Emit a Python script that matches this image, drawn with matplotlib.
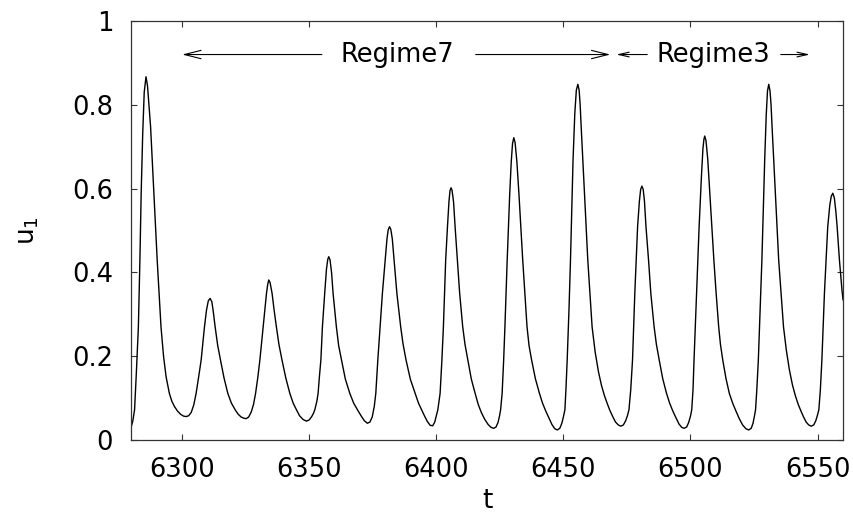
import matplotlib
matplotlib.use("Agg")
import matplotlib.pyplot as plt

# ---- data (one row group per oscillation) ----
t_vals = [
    6280.0, 6280.6, 6281.3, 6282.0, 6282.8, 6283.4, 6283.9, 6284.5, 6285.1, 6285.8, 6286.4, 6287.0,
    6287.6, 6288.9, 6290.2, 6291.7, 6292.7, 6293.7, 6295.0, 6296.0, 6297.0, 6298.2, 6299.5, 6300.6,
    6301.6, 6302.6, 6303.6, 6304.6, 6305.5, 6306.5, 6307.5, 6308.8, 6309.6, 6310.3, 6311.0, 6311.7,
    6312.3, 6313.0, 6314.0, 6315.1, 6316.5, 6318.0, 6319.4, 6320.9, 6322.0, 6323.2, 6324.3,
    6325.2, 6326.2, 6327.2, 6328.1, 6328.9, 6329.8, 6330.6, 6331.9, 6333.2, 6333.7, 6334.1, 6334.6,
    6335.4, 6336.2, 6337.1, 6338.1, 6339.3, 6340.8, 6342.4, 6343.7, 6345.0, 6346.2, 6347.6,
    6348.9, 6350.0, 6351.0, 6351.7, 6352.2, 6353.0, 6353.5, 6354.0, 6354.6, 6355.2, 6356.1, 6356.8,
    6357.3, 6357.7, 6358.2, 6358.8, 6359.4, 6360.7, 6361.6, 6362.7, 6364.2, 6366.0, 6367.5, 6369.2,
    6370.5, 6371.7,
    6372.9, 6373.9, 6374.8, 6375.6, 6376.2, 6377.0, 6377.9, 6378.8, 6379.9, 6380.6, 6381.1, 6381.6,
    6382.1, 6382.7, 6383.4, 6384.5, 6386.0, 6386.9, 6388.1, 6389.8, 6391.7, 6393.0, 6394.3, 6395.4,
    6396.5,
    6397.6, 6398.6, 6399.4, 6400.1, 6400.6, 6401.5, 6402.2, 6402.8, 6403.7, 6404.4, 6405.0, 6405.4,
    6405.8, 6406.2, 6406.8, 6407.4, 6408.3, 6409.2, 6410.4, 6411.3, 6412.4, 6413.8, 6415.3, 6416.5,
    6417.7, 6419.0, 6420.4, 6421.6,
    6422.6, 6423.5, 6424.3, 6424.9, 6425.3, 6425.9, 6426.5, 6427.0, 6427.9, 6428.9, 6429.5, 6430.0,
    6430.5, 6431.0, 6431.7, 6432.5, 6434.0, 6435.7, 6436.5, 6437.5, 6439.0, 6440.6, 6441.8, 6443.0,
    6444.3, 6445.5, 6446.6,
    6447.6, 6448.6, 6449.4, 6450.0, 6450.6, 6451.0, 6451.5, 6452.2, 6452.8, 6453.8, 6454.5, 6455.1,
    6455.7, 6456.2, 6456.6, 6457.0, 6458.3, 6459.6, 6461.3, 6462.5, 6463.8, 6465.0, 6466.2, 6467.2,
    6468.2, 6469.4, 6470.5, 6471.6,
    6472.6, 6473.6, 6474.5, 6475.2, 6475.8, 6476.5, 6477.2, 6478.1, 6479.2, 6479.9, 6480.4, 6480.9,
    6481.4, 6481.9, 6482.5, 6483.5, 6484.4, 6485.7, 6486.6, 6487.7, 6489.1, 6490.6, 6491.8, 6493.0,
    6494.3, 6495.5, 6496.6,
    6497.5, 6498.5, 6499.3, 6500.0, 6500.5, 6501.0, 6501.4, 6502.4, 6503.4, 6504.3, 6504.9, 6505.3,
    6505.6, 6506.1, 6506.8, 6507.6, 6508.4, 6509.2, 6510.1, 6511.1, 6511.8, 6512.7, 6514.0, 6515.3,
    6516.6, 6517.9, 6519.2, 6520.5, 6521.8,
    6522.9, 6523.9, 6524.6, 6525.1, 6525.6, 6526.1, 6526.7, 6527.4, 6528.1, 6529.2, 6529.8, 6530.3,
    6530.8, 6531.3, 6531.7, 6532.1, 6533.4, 6534.7, 6536.6, 6537.7, 6538.9, 6540.1, 6541.3, 6542.4,
    6543.4, 6544.5, 6545.5, 6546.5,
    6547.5, 6548.5, 6549.3, 6549.9, 6550.5, 6551.1, 6551.7, 6552.7, 6554.0, 6554.8, 6555.4, 6556.0,
    6556.6, 6557.2, 6557.7, 6558.6, 6559.6, 6560.0,
]
u_vals = [
    0.032, 0.045, 0.072, 0.160, 0.270, 0.430, 0.589, 0.730, 0.830, 0.867, 0.845, 0.795,
    0.748, 0.589, 0.430, 0.270, 0.200, 0.151, 0.111, 0.092, 0.080, 0.069, 0.061, 0.057,
    0.056, 0.058, 0.066, 0.084, 0.111, 0.150, 0.191, 0.270, 0.310, 0.332, 0.338, 0.330,
    0.305, 0.270, 0.226, 0.191, 0.148, 0.111, 0.088, 0.072, 0.062, 0.055, 0.052,
    0.051, 0.055, 0.067, 0.085, 0.111, 0.150, 0.191, 0.270, 0.350, 0.372, 0.382, 0.376,
    0.350, 0.310, 0.270, 0.228, 0.191, 0.148, 0.111, 0.088, 0.072, 0.058, 0.049,
    0.045, 0.048, 0.056, 0.064, 0.072, 0.092, 0.111, 0.150, 0.191, 0.270, 0.350, 0.408,
    0.431, 0.4375, 0.430, 0.400, 0.350, 0.270, 0.225, 0.191, 0.146, 0.111, 0.088, 0.070,
    0.057, 0.046,
    0.040, 0.043, 0.055, 0.080, 0.111, 0.191, 0.270, 0.350, 0.430, 0.480, 0.502, 0.509,
    0.503, 0.480, 0.430, 0.350, 0.270, 0.230, 0.191, 0.145, 0.111, 0.088, 0.071, 0.057,
    0.044,
    0.035, 0.034, 0.043, 0.060, 0.072, 0.111, 0.190, 0.270, 0.430, 0.509, 0.570, 0.595,
    0.602, 0.596, 0.568, 0.509, 0.430, 0.350, 0.270, 0.228, 0.191, 0.145, 0.111, 0.085,
    0.066, 0.050, 0.037, 0.030,
    0.028, 0.031, 0.042, 0.058, 0.072, 0.111, 0.190, 0.270, 0.430, 0.589, 0.665, 0.708,
    0.7215, 0.710, 0.665, 0.589, 0.430, 0.270, 0.225, 0.191, 0.146, 0.111, 0.088, 0.070,
    0.053, 0.037, 0.027,
    0.024, 0.028, 0.040, 0.055, 0.072, 0.120, 0.191, 0.310, 0.430, 0.668, 0.780, 0.835,
    0.849, 0.835, 0.800, 0.748, 0.589, 0.430, 0.270, 0.210, 0.163, 0.130, 0.105, 0.088,
    0.072, 0.056, 0.043, 0.036,
    0.033, 0.036, 0.046, 0.058, 0.072, 0.120, 0.191, 0.350, 0.509, 0.570, 0.598, 0.606,
    0.598, 0.570, 0.509, 0.430, 0.350, 0.270, 0.228, 0.191, 0.146, 0.111, 0.088, 0.070,
    0.053, 0.038, 0.030,
    0.028, 0.031, 0.042, 0.057, 0.072, 0.120, 0.191, 0.350, 0.509, 0.628, 0.695, 0.718,
    0.7255, 0.715, 0.670, 0.589, 0.510, 0.430, 0.350, 0.270, 0.228, 0.191, 0.146, 0.111,
    0.088, 0.069, 0.051, 0.036, 0.027,
    0.024, 0.028, 0.040, 0.055, 0.072, 0.120, 0.191, 0.310, 0.430, 0.668, 0.775, 0.833,
    0.849, 0.833, 0.800, 0.748, 0.589, 0.430, 0.270, 0.215, 0.168, 0.132, 0.105, 0.085,
    0.070, 0.055, 0.043, 0.036,
    0.033, 0.036, 0.046, 0.058, 0.072, 0.120, 0.191, 0.350, 0.509, 0.560, 0.582, 0.589,
    0.578, 0.545, 0.509, 0.430, 0.358, 0.335,
]

x_ticks = [6300, 6350, 6400, 6450, 6500, 6550]
y_ticks = [0, 0.2, 0.4, 0.6, 0.8, 1]
y_tick_labels = ["0", "0.2", "0.4", "0.6", "0.8", "1"]

regime_labels = ["Regime7", "Regime3"]
regime_spans = [(6300, 6468.5), (6470.8, 6547)]
regime_text_x = [6384.7, 6509.0]
regime_gaps = [(6355.0, 6415.5), (6483.0, 6535.5)]
regime_y = 0.92

# ---- figure ----
plt.rcParams['font.family'] = ['DejaVu Sans']
fig = plt.figure(figsize=(8.54, 5.15), dpi=100)
ax = fig.add_axes([0.1537, 0.1456, 0.9871 - 0.1537, 0.9592 - 0.1456])

ax.plot(t_vals, u_vals, color='black', lw=1.0, solid_joinstyle='round')

ax.set_xlim(6280, 6560)
ax.set_ylim(0, 1)
ax.set_xticks(x_ticks)
ax.set_yticks(y_ticks)
ax.set_yticklabels(y_tick_labels)
ax.tick_params(axis='both', direction='in', length=4, width=0.8,
               top=True, right=True, labelsize=18.5, color='#333333')
ax.tick_params(axis='x', pad=12)
ax.tick_params(axis='y', pad=13)
for s in ax.spines.values():
    s.set_linewidth(0.9)
    s.set_color('#333333')

ax.set_xlabel('t', fontsize=19)
ax.xaxis.set_label_coords(0.5, -0.163)
ax.xaxis.label.set_va('baseline')
ax.set_ylabel('u$_1$', fontsize=19)
ax.yaxis.set_label_coords(-0.145, 0.5)
ax.yaxis.label.set_va('center')

# regime annotations
head_styles = ['->,head_length=1.2,head_width=0.3', '->,head_length=0.75,head_width=0.17']
for lab, (a, b), tx, (g0, g1), hs in zip(regime_labels, regime_spans, regime_text_x,
                                          regime_gaps, head_styles):
    ax.annotate('', xy=(a, regime_y), xytext=(g0, regime_y),
                arrowprops=dict(arrowstyle=hs, color='black', lw=0.8,
                                shrinkA=0, shrinkB=0, mutation_scale=10))
    ax.annotate('', xy=(b, regime_y), xytext=(g1, regime_y),
                arrowprops=dict(arrowstyle=hs, color='black', lw=0.8,
                                shrinkA=0, shrinkB=0, mutation_scale=10))
    ax.text(tx, regime_y, lab, ha='center', va='center', fontsize=18.5)

fig.savefig('out.png', dpi=100)
